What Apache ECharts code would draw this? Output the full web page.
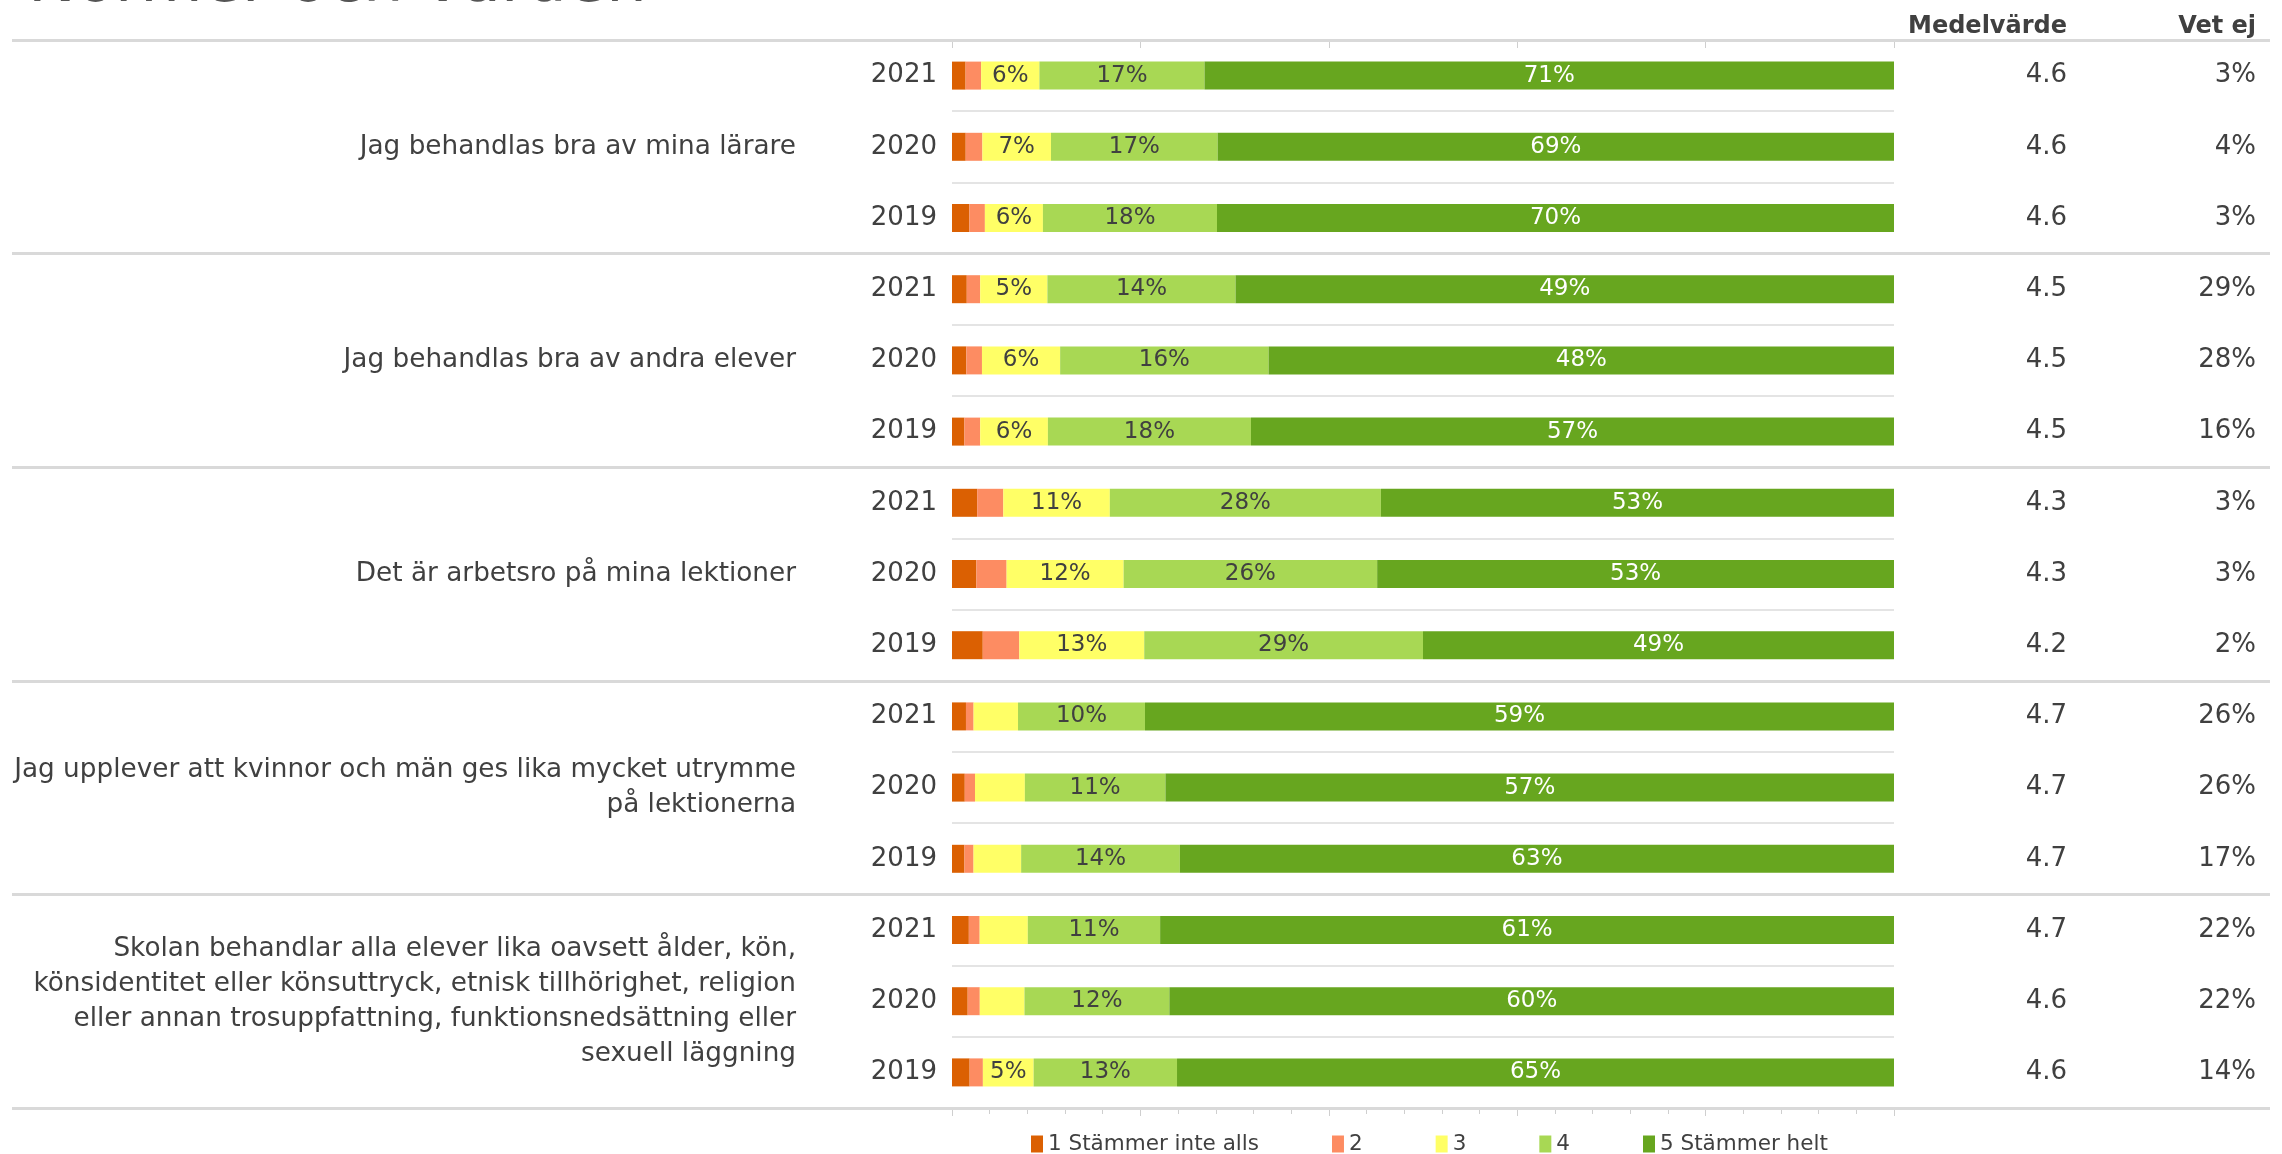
<!DOCTYPE html>
<html>
<head>
<meta charset="utf-8">
<title>Normer och värden</title>
<script src="https://cdn.jsdelivr.net/npm/echarts@6/dist/echarts.min.js"></script>
<style>
  html, body { margin: 0; padding: 0; background: #fff; }
  #chart { width: 2282px; height: 1154px; }
</style>
</head>
<body>
<div id="chart"></div>
<script>
// frågor (grupper) och år per rad
const groups = [
  'Jag behandlas bra av mina lärare',
  'Jag behandlas bra av andra elever',
  'Det är arbetsro på mina lektioner',
  'Jag upplever att kvinnor och män ges lika mycket utrymme\npå lektionerna',
  'Skolan behandlar alla elever lika oavsett ålder, kön,\nkönsidentitet eller könsuttryck, etnisk tillhörighet, religion\neller annan trosuppfattning, funktionsnedsättning eller\nsexuell läggning'
]
const years = ['2021', '2020', '2019']

// andel av alla svar (%), en rad per grupp och år
const s1 = [1.4, 1.4, 1.8,  1.1, 1.1, 1.1,  2.6, 2.5, 3.2,  1.1, 1.0, 1.1,  1.4, 1.3, 1.6]
const s2 = [1.6, 1.7, 1.6,  1.0, 1.2, 1.4,  2.7, 3.1, 3.8,  0.6, 0.8, 0.8,  0.9, 1.0, 1.2]
const s3 = [6, 7, 6,        5, 6, 6,        11, 12, 13,     3.5, 3.9, 4.2,  4.0, 3.7, 4.6]
const s4 = [17, 17, 18,     14, 16, 18,     28, 26, 29,     10, 11, 14,     11, 12, 13]
const s5 = [71, 69, 70,     49, 48, 57,     53, 53, 49,     59, 57, 63,     61, 60, 65]
const medel = [4.6, 4.6, 4.6,  4.5, 4.5, 4.5,  4.3, 4.3, 4.2,  4.7, 4.7, 4.7,  4.7, 4.6, 4.6]
const vetEj = [3, 4, 3,  29, 28, 16,  3, 3, 2,  26, 26, 17,  22, 22, 14]

const seriesNames = ['1 Stämmer inte alls', '2', '3', '4', '5 Stämmer helt']
const colors = ['#DB6002', '#FD8C62', '#FFFF66', '#A8D854', '#67A61F']
const labelColors = ['#404040', '#404040', '#404040', '#404040', '#ffffff']

const FONT = '"DejaVu Sans", Roboto, sans-serif'
const TXT = '#404040'

const rows = []
groups.forEach((g, gi) => years.forEach(y => rows.push(gi + '|' + y)))

const allSeries = [s1, s2, s3, s4, s5]
const rowSum = rows.map((r, i) => allSeries.reduce((a, s) => a + s[i], 0))

const chart = echarts.init(document.getElementById('chart'))

const series = allSeries.map((s, k) => ({
  name: seriesNames[k],
  type: 'bar',
  stack: 'total',
  xAxisIndex: 0,
  yAxisIndex: 0,
  barWidth: 28,
  itemStyle: { color: colors[k] },
  data: s.map((v, i) => ({ value: v / rowSum[i] * 100, raw: v })),
  label: {
    show: true,
    position: 'inside',
    fontFamily: FONT,
    fontSize: 23,
    color: labelColors[k],
    padding: [3, 0, 0, 0],
    formatter: p => (Math.round(p.data.raw) >= 5 ? Math.round(p.data.raw) + '%' : '')
  }
}))

const option = {
  animation: false,
  backgroundColor: '#fff',
  textStyle: { fontFamily: FONT },
  legend: {
    left: 1026,
    top: 1128,
    icon: 'rect',
    itemWidth: 12,
    itemHeight: 17,
    itemGap: 73,
    textStyle: { fontFamily: FONT, fontSize: 21.5, color: TXT },
    data: seriesNames
  },
  graphic: [
    {
      type: 'text', x: 28, y: 16, silent: true,
      style: { text: 'Normer och värden', font: '64px ' + FONT, fill: '#555', verticalAlign: 'bottom' }
    },
    {
      type: 'text', right: 2282 - 2067, top: 15, silent: true,
      style: { text: 'Medelvärde', font: 'bold 24px ' + FONT, fill: TXT }
    },
    {
      type: 'text', right: 2282 - 2256, top: 15, silent: true,
      style: { text: 'Vet ej', font: 'bold 24px ' + FONT, fill: TXT }
    }
  ],
  grid: [
    { left: 952, right: 388, top: 40, bottom: 46 },
    { left: 12, right: 12, top: 40, bottom: 46 }
  ],
  xAxis: [
    {
      gridIndex: 0, type: 'value', min: 0, max: 100, interval: 20,
      axisLine: { show: false },
      axisLabel: { show: false },
      splitLine: { show: false },
      axisTick: { show: true, length: 8, lineStyle: { color: '#cfcfcf', width: 1 } },
      minorTick: { show: true, splitNumber: 5, length: 6, lineStyle: { color: '#cfcfcf', width: 1 } }
    },
    {
      gridIndex: 0, type: 'value', min: 0, max: 100, interval: 20,
      axisLine: { show: false },
      axisLabel: { show: false },
      splitLine: { show: false },
      axisTick: { show: true, inside: true, length: 8, lineStyle: { color: '#cfcfcf', width: 1 } }
    },
    { gridIndex: 1, type: 'value', show: false, min: 0, max: 1 }
  ],
  yAxis: [
    {
      gridIndex: 0, type: 'category', data: rows, inverse: true,
      axisLine: { show: false }, axisTick: { show: false },
      axisLabel: {
        fontFamily: FONT, fontSize: 26, color: TXT, margin: 15,
        padding: [5, 0, 0, 0],
        formatter: v => v.split('|')[1]
      },
      splitLine: { show: true, interval: 0, lineStyle: { color: '#e4e4e4', width: 2 } }
    },
    {
      gridIndex: 0, type: 'category', data: groups, inverse: true,
      position: 'left', offset: 156,
      axisLine: { show: false }, axisTick: { show: false }, splitLine: { show: false },
      axisLabel: {
        fontFamily: FONT, fontSize: 26.3, color: TXT, margin: 0,
        lineHeight: 35, align: 'right', interval: 0,
        padding: [5, 0, 0, 0]
      }
    },
    {
      gridIndex: 0, type: 'category', data: rows, inverse: true,
      position: 'right', offset: 0,
      axisLine: { show: false }, axisTick: { show: false }, splitLine: { show: false },
      axisLabel: {
        fontFamily: FONT, fontSize: 26, color: TXT, margin: 2067 - 1894,
        align: 'right', interval: 0, padding: [5, 0, 0, 0],
        formatter: (v, i) => medel[i].toFixed(1)
      }
    },
    {
      gridIndex: 0, type: 'category', data: rows, inverse: true,
      position: 'right', offset: 0,
      axisLine: { show: false }, axisTick: { show: false }, splitLine: { show: false },
      axisLabel: {
        fontFamily: FONT, fontSize: 26, color: TXT, margin: 2256 - 1894,
        align: 'right', interval: 0, padding: [5, 0, 0, 0],
        formatter: (v, i) => vetEj[i] + '%'
      }
    },
    {
      gridIndex: 1, type: 'category', data: groups, inverse: true, z: 3,
      axisLine: { show: false }, axisTick: { show: false }, axisLabel: { show: false },
      splitLine: { show: true, interval: 0, lineStyle: { color: '#d9d9d9', width: 3 } }
    }
  ],
  series: series
}

chart.setOption(option)
</script>
</body>
</html>
